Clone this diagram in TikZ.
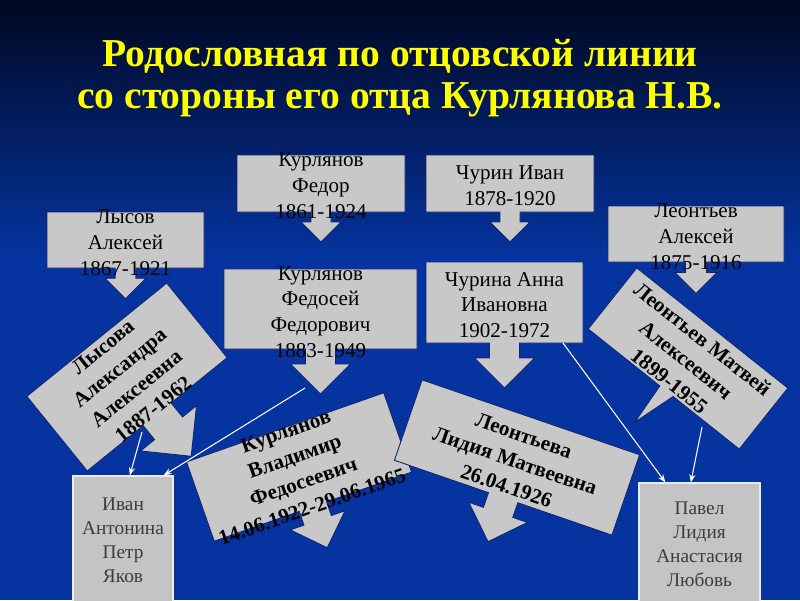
\documentclass[tikz,border=0pt]{standalone}
\usepackage{fontspec}
\setmainfont{Liberation Serif}
\usepackage{tikz}
\usetikzlibrary{arrows.meta}
\definecolor{slidetop}{RGB}{0,8,34}
\definecolor{slideblue}{RGB}{5,52,160}
\definecolor{boxgray}{RGB}{200,200,200}
\definecolor{kidgray}{RGB}{196,196,196}
\definecolor{boxline}{RGB}{20,35,110}
\definecolor{kidtext}{RGB}{60,60,60}
\definecolor{titleyellow}{RGB}{255,255,0}

% box with a down arrow under it: centre, width, height, angle, arrow size
\newcommand{\famshape}[5]{%
  \begin{scope}[shift={#1}, rotate=#4]
    \pgfmathsetmacro{\bxw}{#2/2}
    \pgfmathsetmacro{\bxh}{#3/2}
    \pgfmathsetmacro{\arq}{#5}
    \filldraw[shapebox]
      (-\bxw,-\bxh) -- (\bxw,-\bxh) -- (\bxw,\bxh) -- ({\arq/2},\bxh)
      -- ({\arq/2},{\bxh+\arq/2}) -- (\arq,{\bxh+\arq/2}) -- (0,{\bxh+1.5*\arq})
      -- (-\arq,{\bxh+\arq/2}) -- ({-\arq/2},{\bxh+\arq/2}) -- ({-\arq/2},\bxh)
      -- (-\bxw,\bxh) -- cycle;
  \end{scope}}

\begin{document}
\begin{tikzpicture}[x=0.02cm, y=-0.02cm,
    shapebox/.style={fill=boxgray, draw=boxline, line width=0.5pt},
    famtext/.style={align=center, inner sep=0pt, font=\fontsize{12}{14.7}\selectfont},
    famtextb/.style={align=center, inner sep=0pt, font=\fontsize{12}{15.2}\selectfont\bfseries},
    kid/.style={fill=kidgray, draw=white!85!gray, line width=0.8pt, align=center,
                text=kidtext, font=\fontsize{11}{13.6}\selectfont},
    link/.style={-{Stealth[length=4.5pt,width=3.5pt]}, white, line width=0.6pt}]
  % background
  \fill[slideblue] (0,0) rectangle (800,600);
  \shade[top color=slidetop, bottom color=slideblue] (0,0) rectangle (800,260);
  \useasboundingbox (0,0) rectangle (800,600);

  \node[align=center, text=titleyellow, font=\fontsize{22.5}{23.8}\selectfont\bfseries] (title) at (400,78)
    {Родословная по отцовской линии\\со стороны его отца Курлянова Н.В.};

  % upper boxes
  \famshape{(321,183.5)}{168}{57}{0}{20}
  \famshape{(510,183.5)}{168}{57}{0}{20}
  \famshape{(125.5,240)}{157}{56}{0}{20.5}
  \famshape{(696,234)}{176}{56}{0}{21}
  \famshape{(320.5,309)}{193}{80}{0}{30}
  \famshape{(504.5,302.5)}{157}{81}{0}{30}
  \node[famtext] (fedor) at (321,186) {Курлянов\\Федор\\1861-1924};
  \node[famtext] (churin) at (510,186) {Чурин Иван\\1878-1920};
  \node[famtext] (lysov) at (125.5,243) {Лысов\\Алексей\\1867-1921};
  \node[famtext] (aleksey) at (696,237) {Леонтьев\\Алексей\\1875-1916};
  \node[famtext] (fedosey) at (320.5,312) {Курлянов\\Федосей\\Федорович\\1883-1949};
  \node[famtext] (churina) at (504.5,305) {Чурина Анна\\Ивановна\\1902-1972};

  % tilted boxes
  \famshape{(127,377)}{180}{96}{39}{36}
  \node[famtextb, rotate=39] (lysova) at (128,378) {Лысова\\Александра\\Алексеевна\\1887-1962};
  \famshape{(299,467)}{209}{84}{19.3}{29}
  \node[famtextb, rotate=19.3] (vladimir) at (299,469) {Курлянов\\Владимир\\Федосеевич\\14.06.1922-29.06.1965};
  \famshape{(517,457.5)}{230}{85}{-19}{31}
  \node[famtextb, rotate=-19] (lidia) at (515,461) {Леонтьева\\Лидия Матвеевна\\26.04.1926};
  \begin{scope}[shift={(688,358.5)}, rotate=-38.5]
    \filldraw[shapebox] (-96.5,-39) -- (96.5,-39) -- (96.5,39) -- (12,39) -- (-2,83)
      -- (-5,39) -- (-96.5,39) -- cycle;
  \end{scope}
  \node[famtextb, rotate=-38.5] (matvey) at (686,360) {Леонтьев Матвей\\Алексеевич\\1899-1955};

  % children
  \node[kid, minimum width=2cm, minimum height=2.58cm] (ivan) at (123,540.5) {Иван\\Антонина\\Петр\\Яков};
  \node[kid, minimum width=2.42cm, minimum height=2.44cm] (pavel) at (699.5,544) {Павел\\Лидия\\Анастасия\\Любовь};

  \coordinate (lysova-out) at (142,432);
  \coordinate (fedosey-out) at (305,388);
  \coordinate (churina-out) at (563,343);
  \coordinate (matvey-out) at (702,427);
  \draw[link] (lysova-out) -- (ivan.84.7);
  \draw[link] (fedosey-out) -- (ivan.58.8);
  \draw[link] (churina-out) -- (pavel.119.5);
  \draw[link] (matvey-out) -- (pavel.98.9);
\end{tikzpicture}
\end{document}
